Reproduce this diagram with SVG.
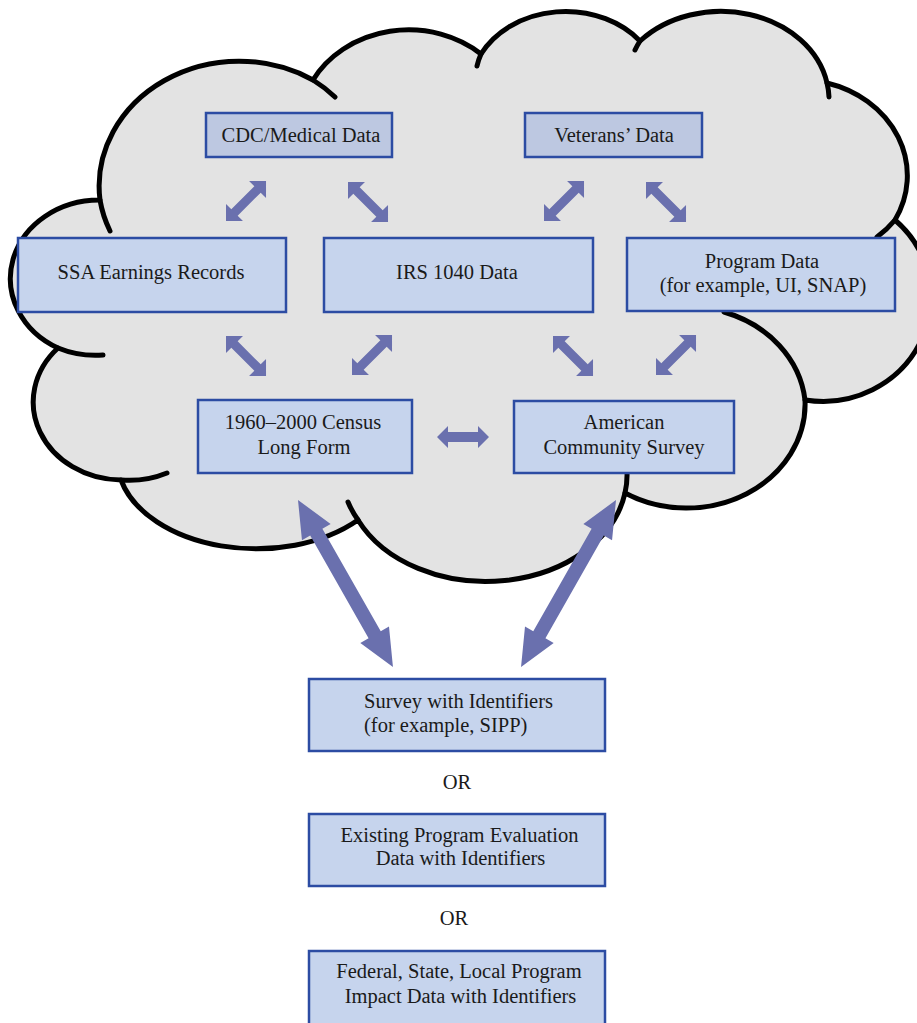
<svg xmlns="http://www.w3.org/2000/svg" width="917" height="1023" viewBox="0 0 917 1023">
<defs>
<style>
.cloud{fill:#e3e3e3;stroke:#000;stroke-width:5;stroke-linejoin:round}
.tail{fill:none;stroke:#000;stroke-width:5;stroke-linecap:round}
.box{fill:#c6d4ed;stroke:#2c4ca3;stroke-width:2.5}
.box2{fill:#bdc8e1;stroke:#2c4ca3;stroke-width:2.5}
.t{font-family:"Liberation Serif","Times New Roman",serif;font-size:20.5px;fill:#1a1a1a;text-anchor:middle}
.ts{font-family:"Liberation Serif","Times New Roman",serif;font-size:20.5px;fill:#1a1a1a}
.arr{fill:#6a70ae}
</style>
<polygon id="sa" points="0,0 12,-12 12,-4.5 44.6,-4.5 44.6,-12 56.6,0 44.6,12 44.6,4.5 12,4.5 12,12"/>
<polygon id="ba" points="0,0 37,-16.5 37,-7 155,-7 155,-16.5 192,0 155,16.5 155,7 37,7 37,16.5"/>
</defs>
<rect width="917" height="1023" fill="#fff"/>
<g id="cloud">
<path class="cloud" d="M100 200 A140 125 0 0 1 313 80 A109 96 0 0 1 481 54 A95 78 0 0 1 640 41 A108 88 0 0 1 827 83 A109 96 0 0 1 895 220 A108 104 0 0 1 805 400 A118.6 104 0 0 1 625 493 A141 106 0 0 1 358 520 A139 90 0 0 1 121 480 A89 78 0 0 1 58 348 A89 78.5 0 0 1 100 200 Z"/>
<path class="tail" d="M58 348 A89 78.5 0 0 0 103 355 M121 480 A89 78 0 0 0 167 473 M358 520 A141 106 0 0 1 348 502 M625 493 A141 106 0 0 0 627 472 M805 400 A118.6 104 0 0 0 724 312 M895 220 A109 96 0 0 1 877 237 M827 83 A108 88 0 0 1 829 97 M640 41 A108 88 0 0 0 635 50 M481 54 A95 78 0 0 0 477 66 M313 80 A140 125 0 0 1 335 97 M100 200 A140 125 0 0 0 110 231"/>
</g>
<g id="node-cdc"><rect class="box2" x="206" y="113" width="186" height="44"/><text class="t" x="301" y="142">CDC/Medical Data</text></g>
<g id="node-veterans"><rect class="box2" x="525" y="113" width="177" height="44"/><text class="t" x="614" y="142">Veterans’ Data</text></g>
<g id="node-ssa"><rect class="box" x="18" y="238" width="268" height="74"/><text class="t" x="151" y="279">SSA Earnings Records</text></g>
<g id="node-irs"><rect class="box" x="324" y="238" width="269" height="74"/><text class="t" x="457" y="279">IRS 1040 Data</text></g>
<g id="node-program"><rect class="box" x="627" y="238" width="268" height="73"/><text class="t" x="762" y="268">Program Data</text><text class="t" x="763" y="292">(for example, UI, SNAP)</text></g>
<g id="node-census"><rect class="box" x="198" y="400" width="214" height="73"/><text class="t" x="303" y="429">1960–2000 Census</text><text class="t" x="304" y="454">Long Form</text></g>
<g id="node-acs"><rect class="box" x="514" y="401" width="220" height="72"/><text class="t" x="624" y="429">American</text><text class="t" x="624" y="454">Community Survey</text></g>
<g id="node-survey"><rect class="box" x="309" y="679" width="296" height="72"/><text class="ts" x="364" y="708">Survey with Identifiers</text><text class="ts" x="364" y="732">(for example, SIPP)</text></g>
<g id="or-1"><text class="t" x="457" y="789">OR</text></g>
<g id="node-existing"><rect class="box" x="309" y="814" width="296" height="72"/><text class="t" x="459.5" y="842">Existing Program Evaluation</text><text class="t" x="460.5" y="865">Data with Identifiers</text></g>
<g id="or-2"><text class="t" x="454" y="925">OR</text></g>
<g id="node-federal"><rect class="box" x="309" y="951" width="296" height="80"/><text class="t" x="459" y="978">Federal, State, Local Program</text><text class="t" x="460.5" y="1003">Impact Data with Identifiers</text></g>
<g id="connectors" class="arr">
<use href="#sa" transform="translate(226,221) rotate(-45)"/>
<use href="#sa" transform="translate(348,182) rotate(45)"/>
<use href="#sa" transform="translate(544,221) rotate(-45)"/>
<use href="#sa" transform="translate(646,182) rotate(45)"/>
<use href="#sa" transform="translate(226,336) rotate(45)"/>
<use href="#sa" transform="translate(352,375) rotate(-45)"/>
<use href="#sa" transform="translate(553,336) rotate(45)"/>
<use href="#sa" transform="translate(656,375) rotate(-45)"/>
<polygon points="437,437 448,426 448,432 478,432 478,426 489,437 478,448 478,442 448,442 448,448"/>
<use href="#ba" transform="translate(298,500) rotate(60.36)"/>
<use href="#ba" transform="translate(616,500) rotate(119.64)"/>
</g>
</svg>
